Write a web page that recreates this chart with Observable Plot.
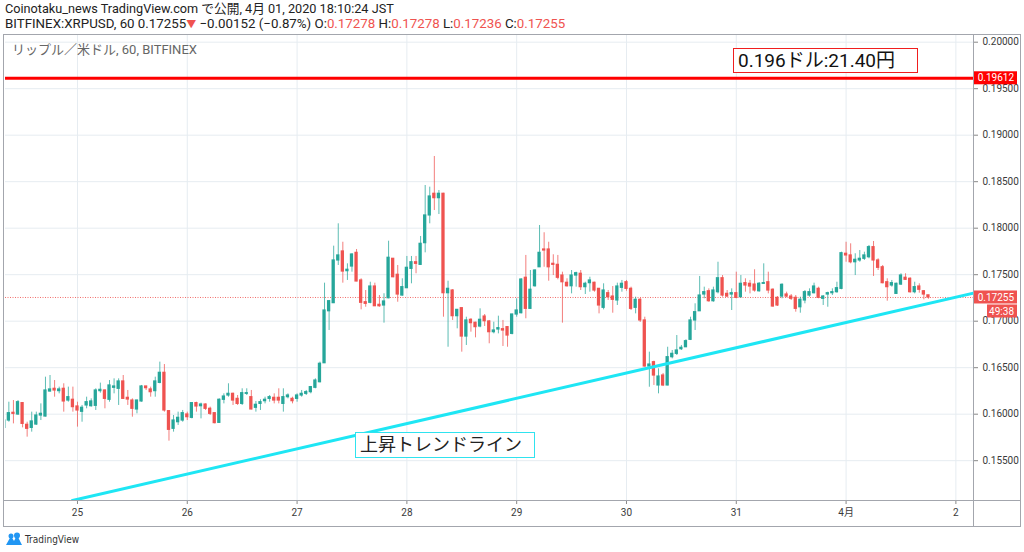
<!DOCTYPE html>
<html><head><meta charset="utf-8">
<script src="https://cdn.jsdelivr.net/npm/d3@7"></script>
<script src="https://cdn.jsdelivr.net/npm/@observablehq/plot@0.6"></script>
<style>
body{margin:0;background:#fff;font-family:Roboto,"Noto Sans CJK JP",sans-serif;}
#wrap{position:relative;width:1024px;height:552px;overflow:hidden;background:#fff}
.abs{position:absolute;white-space:nowrap}
.r{color:#ef5350}
#chart svg{overflow:visible}
</style></head>
<body><div id="wrap">
<div class="abs" style="left:5px;top:1px;font-size:12.7px;color:#222;line-height:15px">Coinotaku_news TradingView.com で公開, 4月 01, 2020 18:10:24 JST</div>
<div class="abs" style="left:5px;top:16px;font-size:13.3px;color:#222;line-height:15px">BITFINEX:XRPUSD, 60 0.17255<span class="r" style="font-size:10px">▼</span> −0.00152 (−0.87%) O:<span class="r">0.17278</span> H:<span class="r">0.17278</span> L:<span class="r">0.17236</span> C:<span class="r">0.17255</span></div>
<div id="chart" class="abs" style="left:3px;top:35px"></div>
<div class="abs" style="left:3px;top:34px;width:1016px;height:491px;border:1px solid #a3a6ad;pointer-events:none"></div>
<div class="abs" style="left:3px;top:500px;width:1017px;height:1px;background:#a3a6ad"></div>
<div class="abs" style="left:973px;top:35px;width:1px;height:491px;background:#a3a6ad"></div>
<div class="abs" style="left:12px;top:39px;font-size:13px;color:#666">リップル／米ドル, 60, BITFINEX</div>
<div class="abs" style="left:733px;top:48px;width:179px;height:23px;border:1.5px solid #f01e1e;background:#fff;font-size:19px;line-height:23px;color:#111;padding-left:4px;box-sizing:content-box">0.196ドル:21.40円</div>
<div class="abs" style="left:355px;top:432px;width:174px;height:24px;border:1.5px solid #2fe3ef;background:#fff;font-size:18px;line-height:24px;color:#222;padding-left:4px">上昇トレンドライン</div>
<div class="abs" style="left:5px;top:531px;height:16px;display:flex;align-items:center">
<svg width="18" height="14" viewBox="0 0 18 14"><path d="M1 13 L6 4 L9 9 L12 3 L17 13 Z" fill="#2196f3"/><circle cx="6" cy="4" r="2.5" fill="#2196f3"/><circle cx="12" cy="3.5" r="3" fill="#2196f3"/></svg>
<span style="font-size:10px;color:#333;margin-left:2px;font-family:'DejaVu Sans Condensed','Liberation Sans Narrow',sans-serif">TradingView</span></div>
</div>
<script>
// Hourly candles, first candle 2020-03-24 08:00 (JST shown as UTC clock)
const startHour = Date.UTC(2020, 2, 24, 8);
const opens = [
0.15853,0.15932,0.16015,0.15997,0.16119,0.15886,0.15853,0.15889,0.15986,0.15975,
0.16244,0.16273,0.16248,0.16273,0.16147,0.16155,0.16083,0.16026,0.16094,0.16086,
0.16090,0.16248,0.16255,0.16155,0.16284,0.16273,0.16352,0.16176,0.16147,0.16051,
0.16137,0.16298,0.16266,0.16248,0.16337,0.16445,0.16033,0.15843,0.15914,0.15932,
0.15997,0.15961,0.16119,0.16086,0.16104,0.16058,0.16011,0.15907,0.16155,0.16201,
0.16219,0.16165,0.16111,0.16219,0.16183,0.16069,0.16111,0.16140,0.16165,0.16176,
0.16176,0.16111,0.16183,0.16165,0.16165,0.16201,0.16219,0.16237,0.16284,0.16344,
0.16548,0.17107,0.17194,0.17653,0.17750,0.17538,0.17588,0.17735,0.17438,0.17204,
0.17198,0.17373,0.17176,0.17169,0.17247,0.17671,0.17499,0.17276,0.17355,0.17563,
0.17634,0.17606,0.17839,0.18137,0.18370,0.18323,0.18370,0.17301,0.17330,0.17054,
0.17140,0.16835,0.17015,0.16983,0.16943,0.17050,0.16997,0.16882,0.16911,0.16914,
0.16936,0.16864,0.17072,0.17086,0.17467,0.17133,0.17376,0.17580,0.17771,0.17771,
0.17617,0.17606,0.17491,0.17413,0.17376,0.17491,0.17510,0.17366,0.17409,0.17413,
0.17348,0.17144,0.17301,0.17265,0.17223,0.17359,0.17419,0.17348,0.17144,0.17230,
0.17008,0.16513,0.16559,0.16309,0.16416,0.16309,0.16613,0.16649,0.16699,0.16720,
0.16800,0.17008,0.17107,0.17287,0.17322,0.17215,0.17312,0.17462,0.17294,0.17287,
0.17301,0.17258,0.17409,0.17402,0.17394,0.17322,0.17402,0.17419,0.17338,0.17251,
0.17265,0.17287,0.17265,0.17251,0.17150,0.17223,0.17276,0.17301,0.17348,0.17241,
0.17287,0.17301,0.17312,0.17348,0.17725,0.17707,0.17634,0.17653,0.17671,0.17688,
0.17796,0.17653,0.17580,0.17419,0.17384,0.17294,0.17394,0.17467,0.17456,0.17312,
0.17373,0.17322,0.17278];
const highs = [
0.15950,0.16129,0.16147,0.16147,0.16125,0.15914,0.16022,0.16022,0.16111,0.16398,
0.16416,0.16362,0.16291,0.16327,0.16291,0.16291,0.16129,0.16094,0.16183,0.16165,
0.16273,0.16334,0.16260,0.16362,0.16380,0.16380,0.16416,0.16255,0.16165,0.16150,
0.16309,0.16300,0.16291,0.16398,0.16560,0.16534,0.16035,0.15986,0.16022,0.16040,
0.16022,0.16122,0.16129,0.16119,0.16111,0.16076,0.16013,0.16165,0.16219,0.16327,
0.16226,0.16201,0.16273,0.16273,0.16255,0.16137,0.16155,0.16183,0.16201,0.16219,
0.16273,0.16273,0.16219,0.16183,0.16219,0.16255,0.16255,0.16298,0.16380,0.16560,
0.17409,0.17223,0.17807,0.18047,0.17849,0.17617,0.17725,0.17771,0.17456,0.17330,
0.17419,0.17409,0.17276,0.17295,0.17860,0.17674,0.17599,0.17456,0.17696,0.17696,
0.17696,0.17911,0.18459,0.18441,0.18771,0.18405,0.18375,0.17430,0.17340,0.17125,
0.17142,0.17043,0.17026,0.16989,0.17133,0.17072,0.17008,0.16989,0.17054,0.17008,
0.16943,0.17075,0.17241,0.17456,0.17707,0.17545,0.17553,0.18029,0.17951,0.17849,
0.17714,0.17707,0.17527,0.17456,0.17545,0.17527,0.17545,0.17419,0.17473,0.17419,
0.17350,0.17402,0.17330,0.17373,0.17409,0.17438,0.17438,0.17366,0.17258,0.17244,
0.17043,0.16667,0.16570,0.16488,0.16438,0.16720,0.16685,0.16846,0.16739,0.16800,
0.17043,0.17187,0.17481,0.17366,0.17348,0.17366,0.17634,0.17491,0.17330,0.17348,
0.17527,0.17491,0.17456,0.17438,0.17553,0.17416,0.17617,0.17527,0.17348,0.17265,
0.17402,0.17312,0.17287,0.17276,0.17258,0.17330,0.17348,0.17409,0.17366,0.17276,
0.17312,0.17348,0.17419,0.17742,0.17849,0.17832,0.17725,0.17760,0.17742,0.17814,
0.17857,0.17671,0.17599,0.17456,0.17438,0.17409,0.17510,0.17510,0.17467,0.17419,
0.17402,0.17330,0.17278];
const lows = [
0.15843,0.15914,0.15896,0.15986,0.15853,0.15753,0.15807,0.15879,0.15932,0.15970,
0.16237,0.16183,0.16219,0.16022,0.16129,0.16022,0.15861,0.15914,0.16058,0.16076,
0.16040,0.16226,0.16058,0.16129,0.16219,0.16094,0.16160,0.16094,0.15968,0.16004,
0.16129,0.16255,0.16183,0.16183,0.16327,0.16022,0.15710,0.15807,0.15879,0.15914,
0.15932,0.15950,0.16022,0.15950,0.16040,0.15986,0.15896,0.15904,0.16111,0.16183,
0.16094,0.16094,0.16094,0.16201,0.16047,0.16022,0.16040,0.16111,0.16129,0.16111,
0.16111,0.16022,0.16165,0.16111,0.16129,0.16183,0.16201,0.16219,0.16273,0.16337,
0.16545,0.16900,0.17190,0.17599,0.17409,0.17438,0.17527,0.17424,0.17122,0.17150,
0.17187,0.17158,0.17150,0.16979,0.17241,0.17467,0.17204,0.17269,0.17352,0.17402,
0.17510,0.17599,0.17735,0.18047,0.18190,0.18147,0.17043,0.16720,0.17008,0.16918,
0.16667,0.16739,0.16882,0.16821,0.16929,0.16943,0.16757,0.16864,0.16864,0.16728,
0.16720,0.16853,0.17043,0.17079,0.17026,0.17130,0.17366,0.17578,0.17580,0.17430,
0.17491,0.17445,0.16979,0.17366,0.17294,0.17366,0.17330,0.17287,0.17312,0.17312,
0.17079,0.17122,0.17223,0.17086,0.17169,0.17312,0.17322,0.17115,0.17079,0.16986,
0.16505,0.16290,0.16309,0.16219,0.16297,0.16305,0.16595,0.16631,0.16685,0.16718,
0.16792,0.16900,0.17105,0.17241,0.17204,0.17204,0.17294,0.17258,0.17258,0.17115,
0.17241,0.17251,0.17312,0.17294,0.17312,0.17312,0.17400,0.17294,0.17150,0.17158,
0.17241,0.17251,0.17223,0.17097,0.17086,0.17187,0.17258,0.17294,0.17241,0.17169,
0.17150,0.17276,0.17301,0.17338,0.17634,0.17617,0.17491,0.17634,0.17653,0.17671,
0.17481,0.17545,0.17402,0.17215,0.17366,0.17287,0.17384,0.17438,0.17301,0.17294,
0.17301,0.17230,0.17236];
const closes = [
0.15932,0.16011,0.16004,0.16129,0.15896,0.15843,0.15922,0.15986,0.16004,0.16255,
0.16266,0.16255,0.16266,0.16137,0.16183,0.16076,0.16040,0.16069,0.16129,0.16137,
0.16255,0.16262,0.16165,0.16309,0.16298,0.16352,0.16165,0.16158,0.16058,0.16147,
0.16298,0.16280,0.16237,0.16352,0.16445,0.16040,0.15832,0.15932,0.15961,0.16011,
0.15968,0.16119,0.16083,0.16104,0.16058,0.16004,0.15904,0.16155,0.16190,0.16219,
0.16147,0.16111,0.16226,0.16226,0.16051,0.16101,0.16129,0.16155,0.16183,0.16147,
0.16147,0.16183,0.16201,0.16140,0.16201,0.16219,0.16237,0.16291,0.16362,0.16542,
0.17115,0.17215,0.17653,0.17707,0.17534,0.17553,0.17717,0.17427,0.17198,0.17187,
0.17373,0.17161,0.17161,0.17212,0.17682,0.17473,0.17287,0.17366,0.17574,0.17634,
0.17617,0.17832,0.18137,0.18341,0.18323,0.18370,0.17301,0.17348,0.17054,0.17122,
0.16835,0.17008,0.16979,0.16936,0.17015,0.17000,0.16882,0.16900,0.16925,0.16900,
0.16846,0.17072,0.17115,0.17448,0.17133,0.17338,0.17545,0.17735,0.17760,0.17580,
0.17606,0.17467,0.17419,0.17376,0.17491,0.17516,0.17366,0.17402,0.17438,0.17330,
0.17169,0.17330,0.17258,0.17230,0.17373,0.17402,0.17348,0.17133,0.17230,0.17008,
0.16513,0.16534,0.16416,0.16405,0.16309,0.16613,0.16649,0.16685,0.16714,0.16785,
0.17008,0.17097,0.17276,0.17312,0.17215,0.17330,0.17462,0.17276,0.17265,0.17301,
0.17251,0.17402,0.17384,0.17373,0.17330,0.17402,0.17409,0.17330,0.17158,0.17169,
0.17391,0.17265,0.17241,0.17133,0.17230,0.17312,0.17312,0.17373,0.17251,0.17265,
0.17301,0.17312,0.17355,0.17731,0.17707,0.17634,0.17660,0.17671,0.17707,0.17796,
0.17653,0.17574,0.17409,0.17366,0.17409,0.17402,0.17491,0.17445,0.17312,0.17366,
0.17338,0.17287,0.17255];

const lastPrice = 0.17255;
const resistance = 0.19612;
const trendTimes = [Date.UTC(2020, 2, 24, 22, 54), Date.UTC(2020, 3, 2, 3, 51)];
const trendPrices = [0.15072, 0.17301];
const yTickValues = [0.155, 0.16, 0.165, 0.17, 0.175, 0.18, 0.185, 0.19, 0.195, 0.2];
const dayTickLabels = ["25", "26", "27", "28", "29", "30", "31", "4月", "2"];
const dayTickDates = [
  Date.UTC(2020,2,25), Date.UTC(2020,2,26), Date.UTC(2020,2,27), Date.UTC(2020,2,28),
  Date.UTC(2020,2,29), Date.UTC(2020,2,30), Date.UTC(2020,2,31), Date.UTC(2020,3,1), Date.UTC(2020,3,2)
];
const countdown = "49:38";

const GREEN = "#26a69a", RED = "#ef5350";
const HOUR = 3600e3;
const candles = opens.map((o, i) => ({
  t: new Date(startHour + i * HOUR), o, h: highs[i], l: lows[i], c: closes[i]
}));
const dayTicks = dayTickDates.map(d => new Date(d));
const trend = trendTimes.map((t, i) => ({t: new Date(t), p: trendPrices[i]}));
const colorOf = d => d.c >= d.o ? GREEN : RED;

const plot = Plot.plot({
  width: 1017, height: 491,
  marginLeft: 2, marginRight: 47, marginTop: 0, marginBottom: 26,
  style: {fontFamily: "Roboto, 'Noto Sans CJK JP', sans-serif", fontSize: "10px", color: "#3a3a3a", background: "transparent", overflow: "visible"},
  x: {type: "utc", label: null, domain: [new Date(Date.UTC(2020,2,24,8,16)), new Date(Date.UTC(2020,3,2,3,51))]},
  y: {label: null, domain: [0.15072, 0.20072]},
  marks: [
    Plot.gridY(yTickValues, {stroke: "#e6ecf1", strokeOpacity: 1}),
    Plot.gridX(dayTicks, {stroke: "#e6ecf1", strokeOpacity: 1}),
    Plot.ruleY([resistance], {stroke: "#ff0000", strokeWidth: 3}),
    Plot.ruleY([lastPrice], {stroke: RED, strokeWidth: 1, strokeDasharray: "1,1.5", strokeOpacity: 0.85}),
    Plot.ruleX(candles, {x: "t", y1: "l", y2: "h", stroke: colorOf, strokeWidth: 1, strokeOpacity: 0.75, clip: true}),
    Plot.rect(candles, {
      x1: d => new Date(+d.t - 0.36 * HOUR), x2: d => new Date(+d.t + 0.36 * HOUR),
      y1: "o", y2: "c", fill: colorOf, insetTop: -0.6, insetBottom: -0.6, clip: true
    }),
    Plot.line(trend, {x: "t", y: "p", stroke: "#1ee6f4", strokeWidth: 3, clip: true}),
    Plot.axisY({anchor: "right", label: null, ticks: yTickValues, tickFormat: d3.format(".5f"), tickSize: 4, tickPadding: 5, stroke: "#888"}),
    Plot.axisX({label: null, ticks: dayTicks, tickFormat: (d, i) => dayTickLabels[i], tickSize: 4, tickPadding: 4, stroke: "#888"})
  ]
});
document.getElementById("chart").appendChild(plot);

// price labels on the right axis, placed with the plot's y scale
const ys = plot.scale("y");
const svg = d3.select(plot);
const xr = 1017 - 47;
function tag(v, text, fill, dy, x0) {
  const y = ys.apply(v) + (dy || 0);
  const left = x0 || xr + 1;
  const g = svg.append("g");
  g.append("rect").attr("x", left).attr("y", y - 6.5).attr("width", 1014 - left).attr("height", 13).attr("fill", fill);
  g.append("text").attr("x", 1011).attr("y", y + 3.6).attr("text-anchor", "end")
    .attr("fill", "#fff").attr("font-size", 10).text(text);
}
tag(resistance, d3.format(".5f")(resistance), "#ff0000");
tag(lastPrice, d3.format(".5f")(lastPrice), RED);
tag(lastPrice, countdown, RED, 14, xr + 14);
</script>
</body></html>
